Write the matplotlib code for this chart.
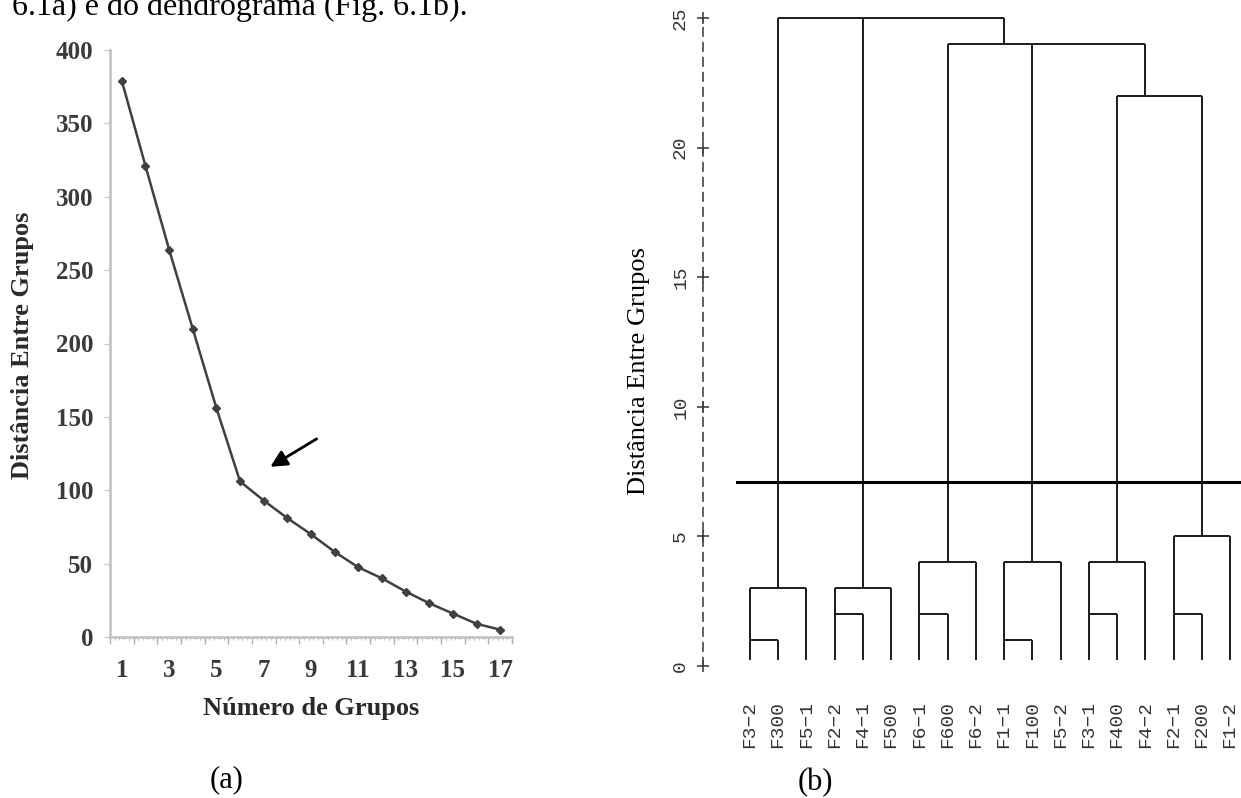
"""Figure 6.1: (a) distance between groups vs number of groups, (b) dendrogram with cut line."""
import numpy as np
import matplotlib
matplotlib.use("Agg")
import matplotlib.pyplot as plt

W, H = 1241, 798
SERIF = "Liberation Serif"
MONO = "Liberation Mono"

# ---- (a) elbow curve
N_GROUPS = list(range(1, 18))
DISTANCE = [379, 321, 264, 210, 156, 106, 93, 81, 70, 58, 47.5, 40, 31, 23, 16, 9, 5]
ARROW_FROM = (9.34, 136)
ARROW_TO = (7.18, 115)

# ---- (b) dendrogram
LEAVES = ["F3−2", "F300", "F5−1", "F2−2", "F4−1", "F500", "F6−1", "F600", "F6−2",
          "F1−1", "F100", "F5−2", "F3−1", "F400", "F4−2", "F2−1", "F200", "F1−2"]
# (node, children, merge height, leaf above which the node's stem rises)
MERGES = [
    ("a1", ["F3−2", "F300"], 1, "F3−2"),
    ("G1", ["a1", "F5−1"], 3, "F300"),
    ("a2", ["F2−2", "F4−1"], 2, "F2−2"),
    ("G2", ["a2", "F500"], 3, "F4−1"),
    ("a3", ["F6−1", "F600"], 2, "F6−1"),
    ("G3", ["a3", "F6−2"], 4, "F600"),
    ("a4", ["F1−1", "F100"], 1, "F1−1"),
    ("G4", ["a4", "F5−2"], 4, "F100"),
    ("a5", ["F3−1", "F400"], 2, "F3−1"),
    ("G5", ["a5", "F4−2"], 4, "F400"),
    ("a6", ["F2−1", "F200"], 2, "F2−1"),
    ("G6", ["a6", "F1−2"], 5, "F200"),
    ("G56", ["G5", "G6"], 22, "F4−2"),
    ("G3456", ["G3", "G4", "G56"], 24, "F1−1"),
    ("root", ["G1", "G2", "G3456"], 25, None),
]
CUT_HEIGHT = 7.1
LEAF_BASE = 0.25
Y_TICKS_B = [0, 5, 10, 15, 20, 25]


def px_rect(left, right, top, bottom):
    return [left / W, 1 - bottom / H, (right - left) / W, (bottom - top) / H]


fig = plt.figure(figsize=(W / 100, H / 100), dpi=100)

fig.text(12 / W, 1 - 15 / H, "6.1a) e do dendrograma (Fig. 6.1b).", family=SERIF,
         fontsize=23, va="baseline", ha="left")

# ---------------- (a)
ax = fig.add_axes(px_rect(110, 512, 50, 637))
ax.plot(N_GROUPS, DISTANCE, color="#404040", lw=1.8, marker="D", ms=4, mfc="#404040", mec="#404040")
ax.set_xlim(0.5, 17.5)
ax.set_ylim(0, 400)
for s in ["top", "right"]:
    ax.spines[s].set_visible(False)
for s in ["left", "bottom"]:
    ax.spines[s].set_color("#c4c4c4")
    ax.spines[s].set_linewidth(2)
ax.set_yticks(range(0, 401, 50))
ax.tick_params(axis="y", length=4, color="#c4c4c4", pad=8)
ax.set_xticks(N_GROUPS)
ax.set_xticklabels([str(n) if n % 2 else "" for n in N_GROUPS])
ax.set_xticks(np.arange(0.5, 17.6, 1), minor=True)
ax.tick_params(axis="x", which="major", length=0, pad=16)
ax.tick_params(axis="x", which="minor", length=5, color="#b0b0b0", width=1)
for lab in ax.get_xticklabels() + ax.get_yticklabels():
    lab.set_family(SERIF); lab.set_fontsize(18); lab.set_weight("bold"); lab.set_color("#3a3a3a")
sec = ax.secondary_xaxis("bottom")
sec.set_xticks(np.arange(0.5, 17.6, 0.2))
sec.tick_params(length=2, color="#c0c0c0", labelbottom=False)
sec.spines["bottom"].set_visible(False)
ax.annotate("", xy=ARROW_TO, xytext=ARROW_FROM,
            arrowprops=dict(arrowstyle="-|>,head_length=1.0,head_width=0.5", color="black", lw=2))
fig.text(23 / W, 1 - 345 / H, "Distância Entre Grupos", rotation=90, family=SERIF, weight="bold",
         fontsize=19, ha="center", va="center", color="#2a2a2a")
fig.text(311 / W, 1 - 708 / H, "Número de Grupos", family=SERIF, weight="bold",
         fontsize=19, ha="center", va="center", color="#2a2a2a")
fig.text(227 / W, 1 - 780 / H, "(a)", family=SERIF, fontsize=22, ha="center", va="center")

# ---------------- (b)
bx = fig.add_axes(px_rect(703, 1241, 10, 700))
xpos = {name: i for i, name in enumerate(LEAVES)}
ypos = {name: LEAF_BASE for name in LEAVES}
seg_kw = dict(color="#1a1a1a", lw=1.4, solid_capstyle="butt")
for node, children, h, anchor in MERGES:
    cx = [xpos[c] for c in children]
    for c in children:
        bx.plot([xpos[c], xpos[c]], [ypos[c], h], **seg_kw)
    bx.plot([min(cx), max(cx)], [h, h], **seg_kw)
    xpos[node] = xpos[anchor] if anchor else float(np.mean(cx))
    ypos[node] = h
bx.plot([-0.46, len(LEAVES) + 1], [CUT_HEIGHT, CUT_HEIGHT], color="black", lw=2.2)
bx.set_xlim(-1.66, 17.39)
bx.set_ylim(-1.31, 25.31)
for s in ["top", "right", "bottom"]:
    bx.spines[s].set_visible(False)
bx.spines["left"].set_bounds(0, 25)
bx.spines["left"].set_linestyle((0, (5, 4)))
bx.spines["left"].set_linewidth(1.2)
bx.spines["left"].set_color("#444444")
bx.set_yticks(Y_TICKS_B)
bx.tick_params(axis="y", length=0, pad=10, labelrotation=90)
bx.plot([0] * len(Y_TICKS_B), Y_TICKS_B, ls="none", marker="+", ms=9, mew=1.1, color="#333333",
        transform=bx.get_yaxis_transform(), clip_on=False)
bx.set_xticks(range(len(LEAVES)))
bx.set_xticklabels(LEAVES, rotation=90)
bx.tick_params(axis="x", length=0, pad=1)
for lab in bx.get_xticklabels() + bx.get_yticklabels():
    lab.set_family(MONO); lab.set_fontsize(14); lab.set_color("#333333")
for lab in bx.get_yticklabels():
    lab.set_va("center")
fig.text(639 / W, 1 - 371 / H, "Distância Entre Grupos", rotation=90, family=SERIF,
         fontsize=19, ha="center", va="center")
fig.text(815 / W, 1 - 783 / H, "(b)", family=SERIF, fontsize=22, ha="center", va="center")

fig.savefig("out.png", dpi=100)
